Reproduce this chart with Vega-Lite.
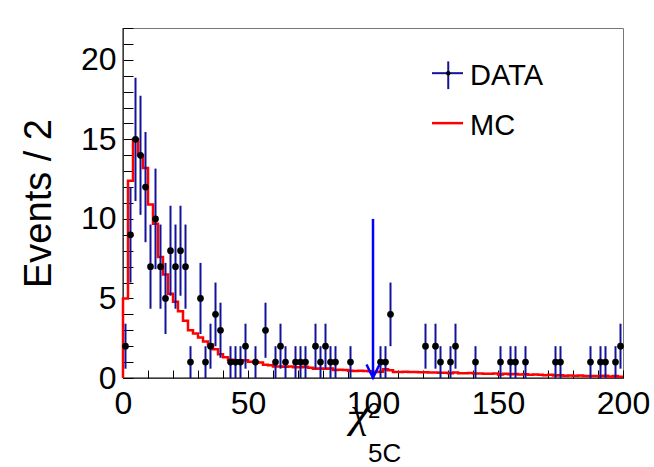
{
  "$schema": "https://vega.github.io/schema/vega-lite/v6.json",
  "width": 500,
  "height": 350,
  "autosize": {"type": "none"},
  "padding": {"left": 123, "top": 28, "right": 31, "bottom": 89},
  "background": "white",
  "config": {
    "view": {"stroke": "#777777", "strokeWidth": 1},
    "font": "Liberation Sans"
  },
  "encoding": {
    "x": {
      "type": "quantitative", "title": null,
      "scale": {"domain": [0, 200], "nice": false, "zero": false},
      "axis": {
        "values": [0,10,20,30,40,50,60,70,80,90,100,110,120,130,140,150,160,170,180,190,200],
        "offset": -8,
        "tickSize": 8,
        "ticks": true,
        "labelExpr": "datum.value % 50 === 0 ? datum.label : ''",
        "labelFontSize": 32, "labelFont": "Liberation Sans", "labelColor": "black",
        "labelPadding": 10, "labelFlush": false, "labelOverlap": false,
        "domain": false, "tickColor": "black", "tickWidth": 1, "grid": false, "title": null
      }
    },
    "y": {
      "type": "quantitative", "title": "Events / 2",
      "scale": {"domain": [0, 22], "nice": false, "zero": false},
      "axis": {
        "values": [0,1,2,3,4,5,6,7,8,9,10,11,12,13,14,15,16,17,18,19,20,21,22],
        "offset": -10,
        "tickSize": 10,
        "ticks": true,
        "labelExpr": "datum.value % 5 === 0 ? datum.label : ''",
        "labelFontSize": 32, "labelFont": "Liberation Sans", "labelColor": "black",
        "labelPadding": 7, "labelFlush": false, "labelOverlap": false,
        "domain": false, "tickColor": "black", "tickWidth": 1, "grid": false,
        "title": "Events / 2", "titleFontSize": 38, "titleFont": "Liberation Sans",
        "titleFontWeight": "normal", "titleColor": "black", "titlePadding": 22
      }
    }
  },
  "layer": [
    {
      "data": {"values": [{"k": "frame"}]},
      "layer": [
        {
          "mark": {"type": "rule", "color": "black", "strokeWidth": 1},
          "encoding": {"x": {"datum": 0}, "y": {"datum": 0}, "y2": {"datum": 22}}
        },
        {
          "mark": {"type": "rule", "color": "black", "strokeWidth": 1},
          "encoding": {"x": {"datum": 0}, "x2": {"datum": 200}, "y": {"datum": 0}}
        }
      ]
    },
    {
      "data": {"values": [
        {"x":0,"y":0},{"x":0,"y":5.0},{"x":2,"y":12.4},{"x":4,"y":15.0},{"x":6,"y":14.0},{"x":8,"y":13.2},
        {"x":10,"y":10.9},{"x":12,"y":9.7},{"x":14,"y":7.6},{"x":16,"y":6.5},{"x":18,"y":5.3},
        {"x":20,"y":4.8},{"x":22,"y":4.2},{"x":24,"y":3.6},{"x":26,"y":3.0},{"x":28,"y":2.8},
        {"x":30,"y":2.55},{"x":32,"y":2.3},{"x":34,"y":2.1},{"x":36,"y":1.8},{"x":38,"y":1.5},
        {"x":40,"y":1.3},{"x":42,"y":1.15},{"x":44,"y":1.12},{"x":46,"y":1.1},{"x":48,"y":1.12},
        {"x":50,"y":1.02},{"x":52,"y":1.0},{"x":54,"y":0.98},{"x":56,"y":0.84},{"x":58,"y":0.8},
        {"x":60,"y":0.72},{"x":62,"y":0.72},{"x":64,"y":0.7},{"x":66,"y":0.72},{"x":68,"y":0.68},
        {"x":70,"y":0.68},{"x":72,"y":0.7},{"x":74,"y":0.65},{"x":76,"y":0.58},{"x":78,"y":0.6},
        {"x":80,"y":0.58},{"x":82,"y":0.6},{"x":84,"y":0.5},{"x":86,"y":0.52},{"x":88,"y":0.5},
        {"x":90,"y":0.46},{"x":92,"y":0.44},{"x":94,"y":0.46},{"x":96,"y":0.44},{"x":98,"y":0.42},
        {"x":100,"y":0.38},{"x":102,"y":0.4},{"x":104,"y":0.55},{"x":106,"y":0.48},{"x":108,"y":0.38},
        {"x":110,"y":0.38},{"x":112,"y":0.4},{"x":114,"y":0.38},{"x":116,"y":0.38},{"x":118,"y":0.36},
        {"x":120,"y":0.36},{"x":122,"y":0.34},{"x":124,"y":0.35},{"x":126,"y":0.33},{"x":128,"y":0.33},
        {"x":130,"y":0.3},{"x":132,"y":0.34},{"x":134,"y":0.3},{"x":136,"y":0.3},{"x":138,"y":0.32},
        {"x":140,"y":0.28},{"x":142,"y":0.28},{"x":144,"y":0.26},{"x":146,"y":0.26},{"x":148,"y":0.28},
        {"x":150,"y":0.22},{"x":152,"y":0.26},{"x":154,"y":0.24},{"x":156,"y":0.25},{"x":158,"y":0.22},
        {"x":160,"y":0.24},{"x":162,"y":0.2},{"x":164,"y":0.22},{"x":166,"y":0.2},{"x":168,"y":0.18},
        {"x":170,"y":0.2},{"x":172,"y":0.16},{"x":174,"y":0.18},{"x":176,"y":0.14},{"x":178,"y":0.15},
        {"x":180,"y":0.14},{"x":182,"y":0.15},{"x":184,"y":0.12},{"x":186,"y":0.12},{"x":188,"y":0.13},
        {"x":190,"y":0.12},{"x":192,"y":0.14},{"x":194,"y":0.1},{"x":196,"y":0.12},{"x":198,"y":0.08},
        {"x":200,"y":0.08}
      ]},
      "mark": {"type": "line", "interpolate": "step-after", "color": "#ff0000", "strokeWidth": 2.5},
      "encoding": {
        "x": {"field": "x"},
        "y": {"field": "y"},
        "order": {"value": null}
      }
    },
    {
      "data": {"values": [
        {"x":1,"y":2,"err":1.414},{"x":3,"y":9,"err":3},{"x":5,"y":15,"err":3.873},{"x":7,"y":14,"err":3.742},
        {"x":9,"y":12,"err":3.464},{"x":11,"y":7,"err":2.646},{"x":13,"y":10,"err":3.162},{"x":15,"y":7,"err":2.646},
        {"x":17,"y":5,"err":2.236},{"x":19,"y":8,"err":2.828},{"x":21,"y":7,"err":2.646},{"x":23,"y":8,"err":2.828},
        {"x":25,"y":7,"err":2.646},{"x":27,"y":1,"err":1},{"x":31,"y":5,"err":2.236},{"x":33,"y":1,"err":1},
        {"x":35,"y":2,"err":1.414},{"x":37,"y":4,"err":2},{"x":39,"y":3,"err":1.732},{"x":43,"y":1,"err":1},
        {"x":45,"y":1,"err":1},{"x":47,"y":1,"err":1},{"x":49,"y":2,"err":1.414},{"x":53,"y":1,"err":1},
        {"x":57,"y":3,"err":1.732},{"x":61,"y":1,"err":1},{"x":63,"y":2,"err":1.414},{"x":65,"y":1,"err":1},
        {"x":69,"y":1,"err":1},{"x":71,"y":1,"err":1},{"x":73,"y":1,"err":1},{"x":77,"y":2,"err":1.414},
        {"x":79,"y":1,"err":1},{"x":81,"y":2,"err":1.414},{"x":83,"y":1,"err":1},{"x":85,"y":1,"err":1},
        {"x":91,"y":1,"err":1},{"x":103,"y":1,"err":1},{"x":105,"y":1,"err":1},{"x":107,"y":4,"err":2},
        {"x":121,"y":2,"err":1.414},{"x":125,"y":2,"err":1.414},{"x":127,"y":1,"err":1},{"x":131,"y":1,"err":1},
        {"x":133,"y":2,"err":1.414},{"x":141,"y":1,"err":1},{"x":151,"y":1,"err":1},{"x":155,"y":1,"err":1},
        {"x":157,"y":1,"err":1},{"x":161,"y":1,"err":1},{"x":173,"y":1,"err":1},{"x":175,"y":1,"err":1},
        {"x":187,"y":1,"err":1},{"x":191,"y":1,"err":1},{"x":193,"y":1,"err":1},{"x":197,"y":1,"err":1},
        {"x":199,"y":2,"err":1.414}
      ]},
      "encoding": {
        "x": {"field": "x"},
        "y": {"field": "y"}
      },
      "layer": [
        {
          "mark": {"type": "errorbar", "color": "#12129a", "thickness": 2},
          "encoding": {"yError": {"field": "err"}}
        },
        {
          "mark": {"type": "circle", "color": "black", "opacity": 1, "size": 45}
        }
      ]
    },
    {
      "data": {"values": [{"x":97.4,"y":0.85},{"x":100,"y":0.02},{"x":102.6,"y":0.85}]},
      "mark": {"type": "line", "color": "#0000ff", "strokeWidth": 2.5},
      "encoding": {
        "x": {"field": "x"},
        "y": {"field": "y"},
        "order": {"value": null}
      }
    },
    {
      "data": {"values": [{"k": "arrow"}]},
      "mark": {"type": "rule", "color": "#0000ff", "strokeWidth": 2.5},
      "encoding": {"x": {"datum": 100}, "y": {"datum": 0}, "y2": {"datum": 10}}
    },
    {
      "data": {"values": [{"k": "legend"}]},
      "layer": [
        {
          "mark": {"type": "rule", "color": "#12129a", "strokeWidth": 2},
          "encoding": {"x": {"datum": 123.6}, "x2": {"datum": 136}, "y": {"datum": 19.16}}
        },
        {
          "mark": {"type": "rule", "color": "#12129a", "strokeWidth": 2},
          "encoding": {"x": {"datum": 130.1}, "y": {"datum": 18.16}, "y2": {"datum": 19.9}}
        },
        {
          "mark": {"type": "circle", "color": "black", "opacity": 1, "size": 20},
          "encoding": {"x": {"datum": 130.1}, "y": {"datum": 19.16}}
        },
        {
          "mark": {"type": "rule", "color": "#ff0000", "strokeWidth": 2.5},
          "encoding": {"x": {"datum": 123.6}, "x2": {"datum": 136}, "y": {"datum": 16.02}}
        },
        {
          "mark": {"type": "text", "text": "DATA", "align": "left", "baseline": "alphabetic", "fontSize": 29, "font": "Liberation Sans", "color": "black"},
          "encoding": {"x": {"datum": 138.8}, "y": {"datum": 18.43}}
        },
        {
          "mark": {"type": "text", "text": "MC", "align": "left", "baseline": "alphabetic", "fontSize": 29, "font": "Liberation Sans", "color": "black"},
          "encoding": {"x": {"datum": 138.8}, "y": {"datum": 15.28}}
        },
        {
          "mark": {"type": "text", "text": "χ", "align": "center", "baseline": "alphabetic", "fontSize": 44, "font": "Liberation Serif", "fontStyle": "italic", "color": "black"},
          "encoding": {"x": {"datum": 94.8}, "y": {"datum": -3.08}}
        },
        {
          "mark": {"type": "text", "text": "2", "align": "left", "baseline": "alphabetic", "fontSize": 22, "font": "Liberation Sans", "color": "black"},
          "encoding": {"x": {"datum": 98.0}, "y": {"datum": -2.52}}
        },
        {
          "mark": {"type": "text", "text": "5C", "align": "left", "baseline": "alphabetic", "fontSize": 26, "font": "Liberation Sans", "color": "black"},
          "encoding": {"x": {"datum": 98.0}, "y": {"datum": -5.28}}
        }
      ]
    }
  ]
}
